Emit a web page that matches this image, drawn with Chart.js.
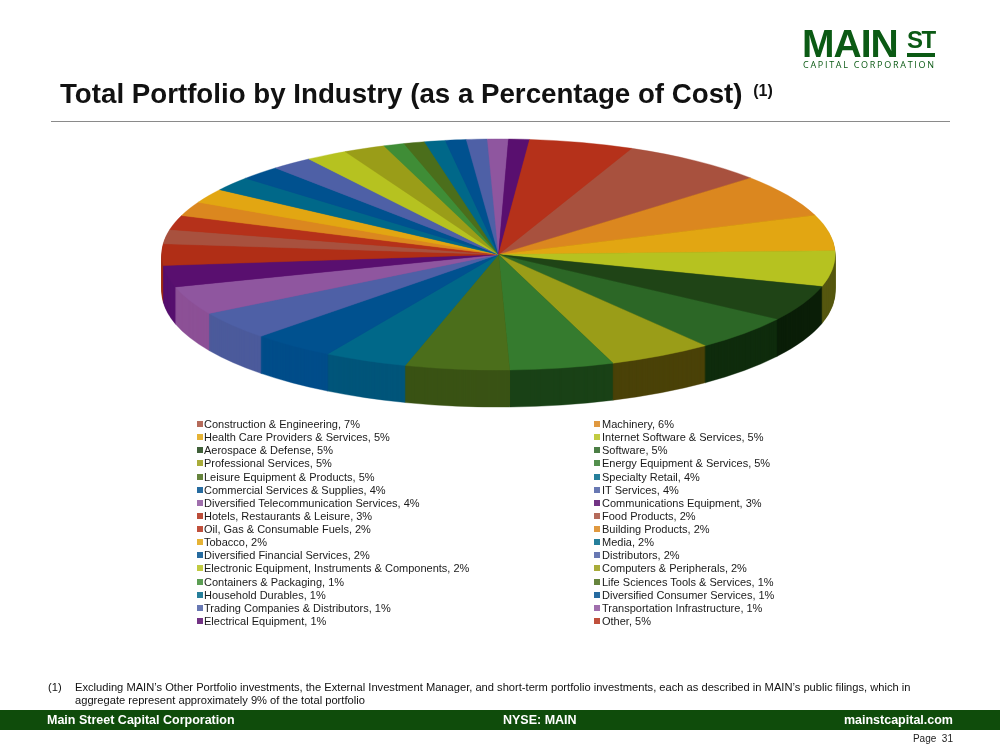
<!DOCTYPE html>
<html><head><meta charset="utf-8">
<script src="https://cdn.jsdelivr.net/npm/chart.js@4"></script>
<style>
html,body{margin:0;padding:0;background:#fff}
body{width:1000px;height:750px;position:relative;overflow:hidden;font-family:"Liberation Sans",Arial,sans-serif;color:#000}
canvas{position:absolute;left:0;top:0}
.abs{position:absolute;white-space:nowrap}
#title{left:60px;top:77px;font-size:27.7px;line-height:34px;font-weight:bold;color:#111}
#title sup{font-size:16px;line-height:0;vertical-align:baseline;position:relative;top:-7px;margin-left:3px}
#rule{left:51px;top:121px;width:899px;height:1px;background:#8a8a8a}
#bar{left:0;top:710px;width:1000px;height:20px;background:#0f4c0b}
.foot{top:713px;font-size:12.5px;line-height:15px;font-weight:bold;color:#fff}
.note{font-size:11.15px;line-height:14px;color:#111}
.leg{font-size:11px;line-height:13px;color:#1a1a1a}
.sw{position:absolute;width:6px;height:6px;opacity:.85}
#m{left:802px;top:20.5px;font:bold 39px/46px "Liberation Sans",sans-serif;color:#0b5a14;letter-spacing:-1px}
#st{left:907px;top:28.7px;font:bold 24px/22px "Liberation Sans",sans-serif;color:#0b5a14;letter-spacing:-1.5px}
#stl{left:907px;top:53px;width:28px;height:4px;background:#0b5a14}
#cc{left:803px;top:59px;font:9px/12px "Open Sans",sans-serif;color:#0b5a14;letter-spacing:1.72px}
</style></head><body>
<canvas id="c" width="1000" height="750"></canvas>
<div class="abs" id="title">Total Portfolio by Industry (as a Percentage of Cost) <sup>(1)</sup></div>
<div class="abs" id="rule"></div>
<div class="abs" id="m">MAIN</div><div class="abs" id="st">ST</div><div class="abs" id="stl"></div>
<div class="abs" id="cc">CAPITAL CORPORATION</div>
<div id="legend"></div>
<div class="abs note" style="left:48px;top:679.5px">(1)</div>
<div class="abs note" style="left:75px;top:679.5px">Excluding MAIN’s Other Portfolio investments, the External Investment Manager, and short-term portfolio investments, each as described in MAIN’s public filings, which in</div>
<div class="abs note" style="left:75px;top:693px">aggregate represent approximately 9% of the total portfolio</div>
<div class="abs" id="bar"></div>
<div class="abs foot" style="left:47px">Main Street Capital Corporation</div>
<div class="abs foot" style="left:503px">NYSE: MAIN</div>
<div class="abs foot" style="right:47px">mainstcapital.com</div>
<div class="abs" style="right:47px;top:732.5px;font-size:10px;line-height:12px;color:#222">Page&nbsp; 31</div>
<script>
const categories = ["Construction & Engineering","Machinery","Health Care Providers & Services","Internet Software & Services","Aerospace & Defense","Software","Professional Services","Energy Equipment & Services","Leisure Equipment & Products","Specialty Retail","Commercial Services & Supplies","IT Services","Diversified Telecommunication Services","Communications Equipment","Hotels, Restaurants & Leisure","Food Products","Oil, Gas & Consumable Fuels","Building Products","Tobacco","Media","Diversified Financial Services","Distributors","Electronic Equipment, Instruments & Components","Computers & Peripherals","Containers & Packaging","Life Sciences Tools & Services","Household Durables","Diversified Consumer Services","Trading Companies & Distributors","Transportation Infrastructure","Electrical Equipment","Other"];
const percents = [7,6,5,5,5,5,5,5,5,4,4,4,4,3,3,2,2,2,2,2,2,2,2,2,1,1,1,1,1,1,1,5];
const faceColors = ["#a8513e","#db871f","#e2a612","#b6c220","#1f4416","#2c6726","#9a9d18","#357b2e","#4b6e1b","#006889","#00518f","#4e60a6","#8f569f","#590f6f","#b02e16","#a8513e","#b5311a","#db871f","#e2a612","#006889","#00518f","#4e60a6","#b6c220","#9a9d18","#3f8d36","#4b6e1b","#006889","#00518f","#4e60a6","#8f569f","#590f6f","#b5311a"];
const wallColors = ["#7a3a2c","#a06215","#a5790c","#55570f","#0a1e08","#0f2c0d","#4a4208","#1a4217","#3a5314","#00557a","#004d8a","#4c5b9c","#8c5096","#560f6e","#9e2a12","#a8513e","#b5311a","#db871f","#e2a612","#006889","#00518f","#4e60a6","#b6c220","#9a9d18","#3f8d36","#4b6e1b","#006889","#00518f","#4e60a6","#8f569f","#590f6f","#b5311a"];

const FACE_Y = 254.5, SQUASH = 115.5 / 336.5, DEPTH = 37;
const pie3d = {
  id: 'pie3d',
  beforeDatasetsDraw(chart) {
    const ctx = chart.ctx, a = chart.chartArea, cy = (a.top + a.bottom) / 2;
    const arcs = chart.getDatasetMeta(0).data.map((arc, i) => {
      const p = arc.getProps(['startAngle', 'endAngle'], true);
      return { arc, i, key: Math.sin((p.startAngle + p.endAngle) / 2) };
    }).sort((x, y) => x.key - y.key);
    for (const { arc, i } of arcs) {
      const saved = arc.options;
      arc.options = Object.assign({}, saved, { backgroundColor: wallColors[i], borderColor: wallColors[i] });
      for (let d = DEPTH; d >= 1; d--) {
        ctx.save();
        ctx.translate(0, FACE_Y + d);
        ctx.scale(1, SQUASH);
        ctx.translate(0, -cy);
        arc.draw(ctx);
        ctx.restore();
      }
      arc.options = saved;
    }
    ctx.save();
    ctx.translate(0, FACE_Y);
    ctx.scale(1, SQUASH);
    ctx.translate(0, -cy);
  },
  afterDatasetsDraw(chart) { chart.ctx.restore(); }
};

new Chart(document.getElementById('c'), {
  type: 'pie',
  data: { labels: categories, datasets: [{ data: percents, backgroundColor: faceColors, borderColor: faceColors, borderWidth: 0.6 }] },
  options: {
    responsive: false, animation: false, rotation: 23.3,
    layout: { padding: { left: 161.5, right: 164.5, top: 0, bottom: 76 } },
    plugins: { legend: { display: false }, tooltip: { enabled: false } }
  },
  plugins: [pie3d]
});

const legend = document.getElementById('legend');
categories.forEach((name, i) => {
  const col = i % 2, row = Math.floor(i / 2), y = 418 + row * 13.13;
  const sw = document.createElement('div');
  sw.className = 'sw';
  sw.style.cssText = `left:${col ? 594 : 197}px;top:${y + 3}px;background:${faceColors[i]}`;
  const t = document.createElement('div');
  t.className = 'abs leg';
  t.style.cssText = `left:${col ? 602 : 204}px;top:${y}px`;
  t.textContent = `${name}, ${percents[i]}%`;
  legend.append(sw, t);
});
</script>
</body></html>
